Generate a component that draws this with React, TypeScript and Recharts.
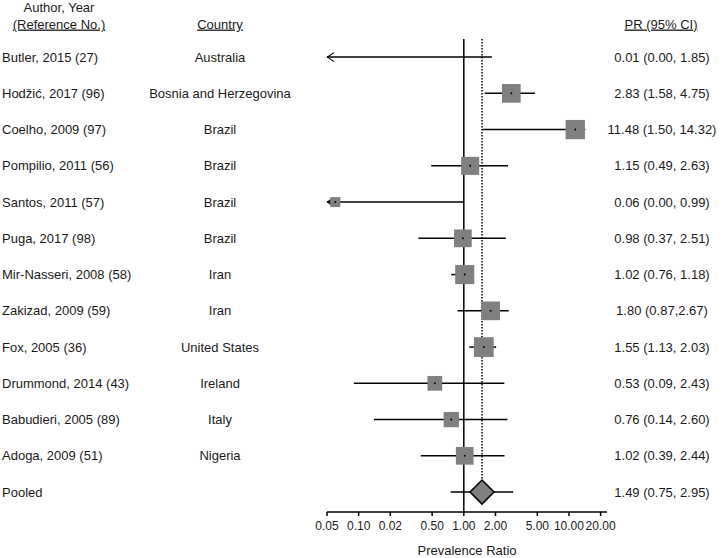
import React from 'react';
import { ScatterChart, Scatter, XAxis, YAxis, ZAxis, ReferenceLine } from 'recharts';

const authors = [
  'Butler, 2015 (27)',
  'Hodžić, 2017 (96)',
  'Coelho, 2009 (97)',
  'Pompilio, 2011 (56)',
  'Santos, 2011 (57)',
  'Puga, 2017 (98)',
  'Mir-Nasseri, 2008 (58)',
  'Zakizad, 2009 (59)',
  'Fox, 2005 (36)',
  'Drummond, 2014 (43)',
  'Babudieri, 2005 (89)',
  'Adoga, 2009 (51)',
  'Pooled',
];
const countries = [
  'Australia',
  'Bosnia and Herzegovina',
  'Brazil',
  'Brazil',
  'Brazil',
  'Brazil',
  'Iran',
  'Iran',
  'United States',
  'Ireland',
  'Italy',
  'Nigeria',
  '',
];
const estimates = [0.01, 2.83, 11.48, 1.15, 0.06, 0.98, 1.02, 1.8, 1.55, 0.53, 0.76, 1.02, 1.49];
const lowerCI = [0.0, 1.58, 1.5, 0.49, 0.0, 0.37, 0.76, 0.87, 1.13, 0.09, 0.14, 0.39, 0.75];
const upperCI = [1.85, 4.75, 14.32, 2.63, 0.99, 2.51, 1.18, 2.67, 2.03, 2.43, 2.6, 2.44, 2.95];
const ciLabels = [
  '0.01 (0.00, 1.85)',
  '2.83 (1.58, 4.75)',
  '11.48 (1.50, 14.32)',
  '1.15 (0.49, 2.63)',
  '0.06 (0.00, 0.99)',
  '0.98 (0.37, 2.51)',
  '1.02 (0.76, 1.18)',
  '1.80 (0.87,2.67)',
  '1.55 (1.13, 2.03)',
  '0.53 (0.09, 2.43)',
  '0.76 (0.14, 2.60)',
  '1.02 (0.39, 2.44)',
  '1.49 (0.75, 2.95)',
];
// relative study weights (%), shown as square area
const weights = [3.0, 10.5, 11.2, 9.8, 3.0, 9.4, 10.9, 10.5, 11.7, 6.5, 7.0, 9.4, 0];
const xTicks = [0.05, 0.1, 0.2, 0.5, 1, 2, 5, 10, 20];
const xTickLabels = ['0.05', '0.10', '0.02', '0.50', '1.00', '2.00', '5.00', '10.00', '20.00'];

const X_MIN = 0.05;
const X_MAX = 23;
const POOLED = authors.length - 1;
const FONT = '"Liberation Sans", Arial, sans-serif';
const TEXT = '#1a1a1a';
const GRAY = '#808080';

const rowIdx = authors.map((_, i) => i);
const studyPoints = rowIdx
  .filter((i) => i !== POOLED && estimates[i] >= X_MIN)
  .map((i) => ({ x: estimates[i], y: i, w: weights[i] }));
const pooledPoint = [{ x: estimates[POOLED], y: POOLED, w: 0 }];

const SquareShape = (p: any) => {
  let s = 0;
  if (typeof p.size === 'number') s = Math.sqrt(p.size);
  else if (typeof p.width === 'number') s = Math.sqrt(Math.PI) * (p.width / 2);
  return (
    <g>
      <rect x={p.cx - s / 2} y={p.cy - s / 2} width={s} height={s} fill={GRAY} />
      <circle cx={p.cx} cy={p.cy} r={1} fill="#000" />
    </g>
  );
};

const DiamondShape = (p: any) => {
  const h = 12;
  return (
    <polygon
      points={`${p.cx - h},${p.cy} ${p.cx},${p.cy - h} ${p.cx + h},${p.cy} ${p.cx},${p.cy + h}`}
      fill={GRAY}
      stroke="#000"
      strokeWidth={1.5}
    />
  );
};

const makeCiShape = (arrow: boolean) => (p: any) => (
  <g>
    <line x1={p.x1} y1={p.y1} x2={p.x2} y2={p.y2} stroke="#000" strokeWidth={1.5} />
    {arrow && (
      <path
        d={`M${p.x1 + 7},${p.y1 - 4.5} L${p.x1 + 0.5},${p.y1} L${p.x1 + 7},${p.y1 + 4.5}`}
        fill="none"
        stroke="#000"
        strokeWidth={1.2}
      />
    )}
  </g>
);

const RowTick = (p: any) => {
  const i = p.payload?.value as number;
  if (i == null || !authors[i]) return null;
  return (
    <g fontFamily={FONT} fontSize={13} fill={TEXT}>
      <text x={2} y={p.y} dy="0.35em" textAnchor="start">
        {authors[i]}
      </text>
      <text x={220} y={p.y} dy="0.35em" textAnchor="middle">
        {countries[i]}
      </text>
      <text x={662} y={p.y} dy="0.35em" textAnchor="middle">
        {ciLabels[i]}
      </text>
    </g>
  );
};

export default function App() {
  return (
    <div style={{ position: 'absolute', left: 0, top: 0, width: 723, height: 558, background: '#fff' }}>
      <ScatterChart
        width={723}
        height={558}
        margin={{ top: 39, right: 116, bottom: 0, left: 0 }}
      >
        <XAxis
          type="number"
          dataKey="x"
          scale="log"
          domain={[X_MIN, X_MAX]}
          allowDataOverflow
          ticks={xTicks}
          tickFormatter={(v: number) => xTickLabels[xTicks.indexOf(v)] ?? String(v)}
          height={46}
          tickSize={4}
          tickMargin={5}
          axisLine={{ stroke: '#000', strokeWidth: 1.5 }}
          tickLine={{ stroke: '#000', strokeWidth: 1.5 }}
          tick={{ fill: TEXT, fontSize: 12, fontFamily: FONT }}
          interval={0}
          label={{
            value: 'Prevalence Ratio',
            position: 'insideBottom',
            offset: 3,
            fill: TEXT,
            fontSize: 13,
            fontFamily: FONT,
          }}
        />
        <YAxis
          type="number"
          dataKey="y"
          domain={[-0.5, 12.55]}
          reversed
          allowDataOverflow
          ticks={rowIdx}
          interval={0}
          width={327}
          axisLine={false}
          tickLine={false}
          tick={<RowTick />}
        />
        <ZAxis type="number" dataKey="w" domain={[0, 12]} range={[0, 400]} />
        <ReferenceLine x={1} stroke="#000" strokeWidth={1.5} ifOverflow="visible" />
        <ReferenceLine
          segment={[
            { x: estimates[POOLED], y: -0.5 },
            { x: estimates[POOLED], y: POOLED },
          ]}
          stroke="#000"
          strokeWidth={1.5}
          strokeDasharray="1.5 1.5"
          ifOverflow="visible"
        />
        <Scatter data={studyPoints} shape={SquareShape} isAnimationActive={false} />
        {rowIdx.map((i) => (
          <ReferenceLine
            key={`ci-${i}`}
            segment={[
              { x: Math.max(lowerCI[i], X_MIN), y: i },
              { x: Math.min(upperCI[i], X_MAX), y: i },
            ]}
            ifOverflow="visible"
            shape={makeCiShape(lowerCI[i] < X_MIN)}
          />
        ))}
        <Scatter data={pooledPoint} shape={DiamondShape} isAnimationActive={false} />
      </ScatterChart>
      <svg
        width={723}
        height={40}
        style={{ position: 'absolute', left: 0, top: 0, pointerEvents: 'none' }}
        fontFamily={FONT}
        fontSize={13}
        fill={TEXT}
      >
        <text x={59} y={7.5} dy="0.35em" textAnchor="middle">
          Author, Year
        </text>
        <text x={59} y={24} dy="0.35em" textAnchor="middle" style={{ textDecoration: 'underline' }}>
          (Reference No.)
        </text>
        <text x={220} y={24} dy="0.35em" textAnchor="middle" style={{ textDecoration: 'underline' }}>
          Country
        </text>
        <text x={661} y={24} dy="0.35em" textAnchor="middle" style={{ textDecoration: 'underline' }}>
          PR (95% CI)
        </text>
      </svg>
    </div>
  );
}
